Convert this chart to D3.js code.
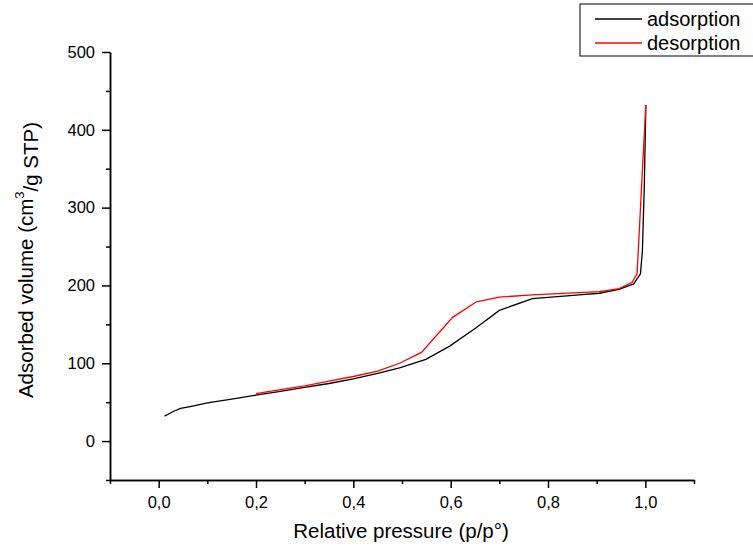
<!DOCTYPE html>
<html>
<head>
<meta charset="utf-8">
<script src="https://cdn.jsdelivr.net/npm/d3@7"></script>
<style>
  body { margin: 0; background: #fff; }
  svg { display: block; font-family: "Liberation Sans", Arial, sans-serif; }
</style>
</head>
<body>
<svg id="chart" width="753" height="551"></svg>
<script>
// 吸附等温线数据 (p/p°, cm3/g STP)
const adsP = [0.012, 0.03, 0.045, 0.07, 0.1, 0.15, 0.2, 0.25, 0.3, 0.35, 0.4, 0.45, 0.495, 0.549, 0.598, 0.653, 0.70, 0.768, 0.864, 0.905, 0.946, 0.976, 0.99, 0.994, 0.998, 1.001];
const adsV = [32, 38, 42, 45, 49, 54, 59, 64, 69, 74, 80, 87, 94, 105, 122, 146, 168, 183, 188, 190, 195, 202, 215, 245, 330, 432];

const desP = [0.2, 0.25, 0.3, 0.35, 0.4, 0.45, 0.495, 0.54, 0.604, 0.653, 0.70, 0.768, 0.905, 0.946, 0.973, 0.983, 1.001];
const desV = [61, 66, 71, 77, 83, 90, 100, 114, 159, 179, 185, 188, 192, 196, 204, 215, 432];

const xMajor = [0, 0.2, 0.4, 0.6, 0.8, 1.0];
const xMinor = [-0.1, 0.1, 0.3, 0.5, 0.7, 0.9, 1.1];
const yMajor = [0, 100, 200, 300, 400, 500];
const yMinor = [-50, 50, 150, 250, 350, 450];

const series = [
  { name: "adsorption", color: "#000000", x: adsP, y: adsV },
  { name: "desorption", color: "#ff0000", x: desP, y: desV }
];

const svg = d3.select("#chart");
const margin = { left: 110, right: 59, top: 52, bottom: 71 };
const W = 753, H = 551;

const x = d3.scaleLinear().domain([-0.1, 1.1]).range([margin.left, W - margin.right]);
const y = d3.scaleLinear().domain([-50, 500]).range([H - margin.bottom, margin.top]);

const commaFmt = d3.formatLocale({ decimal: ",", thousands: ".", grouping: [3], currency: ["", ""] }).format(".1f");

// x 轴
const gx = svg.append("g").attr("transform", `translate(0,${y(-50)})`);
gx.call(d3.axisBottom(x).tickValues(xMajor).tickSize(8).tickSizeOuter(0).tickFormat(commaFmt));
gx.append("g").call(d3.axisBottom(x).tickValues(xMinor).tickSize(4).tickSizeOuter(0).tickFormat(""));

// y 轴
const gy = svg.append("g").attr("transform", `translate(${x(-0.1)},0)`);
gy.call(d3.axisLeft(y).tickValues(yMajor).tickSize(8).tickSizeOuter(0));
gy.append("g").call(d3.axisLeft(y).tickValues(yMinor).tickSize(4).tickSizeOuter(0).tickFormat(""));

svg.selectAll(".domain").attr("stroke", "#000").attr("stroke-width", 1.5);
svg.selectAll(".tick line").attr("stroke", "#000").attr("stroke-width", 1.5);
svg.selectAll(".tick text").attr("font-size", 16.5).attr("fill", "#000")
  .attr("font-family", "Liberation Sans, Arial, sans-serif");
gx.selectAll(".tick text").attr("y", 28).attr("dy", 0);
gy.selectAll(".tick text").attr("x", -15);

// 曲线
const line = d3.line().x(d => x(d[0])).y(d => y(d[1]));
series.forEach(s => {
  svg.append("path")
    .datum(s.x.map((v, i) => [v, s.y[i]]))
    .attr("fill", "none")
    .attr("stroke", s.color)
    .attr("stroke-width", 1.3)
    .attr("d", line);
});

// 轴标题
svg.append("text")
  .attr("x", 401)
  .attr("y", 538)
  .attr("text-anchor", "middle")
  .attr("font-size", 20.5)
  .text("Relative pressure (p/p°)");

const yl = svg.append("text")
  .attr("transform", `translate(33,260) rotate(-90)`)
  .attr("text-anchor", "middle")
  .attr("font-size", 20.5);
yl.append("tspan").text("Adsorbed volume (cm");
yl.append("tspan").attr("font-size", 13).attr("dy", "-0.7em").text("3");
yl.append("tspan").attr("dy", "0.7em").text("/g STP)");

// 图例
const lg = svg.append("g");
lg.append("rect")
  .attr("x", 580).attr("y", 4).attr("width", 200).attr("height", 52)
  .attr("fill", "#fff").attr("stroke", "#000").attr("stroke-width", 1);
series.forEach((s, i) => {
  const ly = 19 + i * 24;
  lg.append("line").attr("x1", 595).attr("x2", 642).attr("y1", ly).attr("y2", ly)
    .attr("stroke", s.color).attr("stroke-width", 1.3);
  lg.append("text").attr("x", 647).attr("y", ly + 7).attr("font-size", 20).text(s.name);
});
</script>
</body>
</html>
